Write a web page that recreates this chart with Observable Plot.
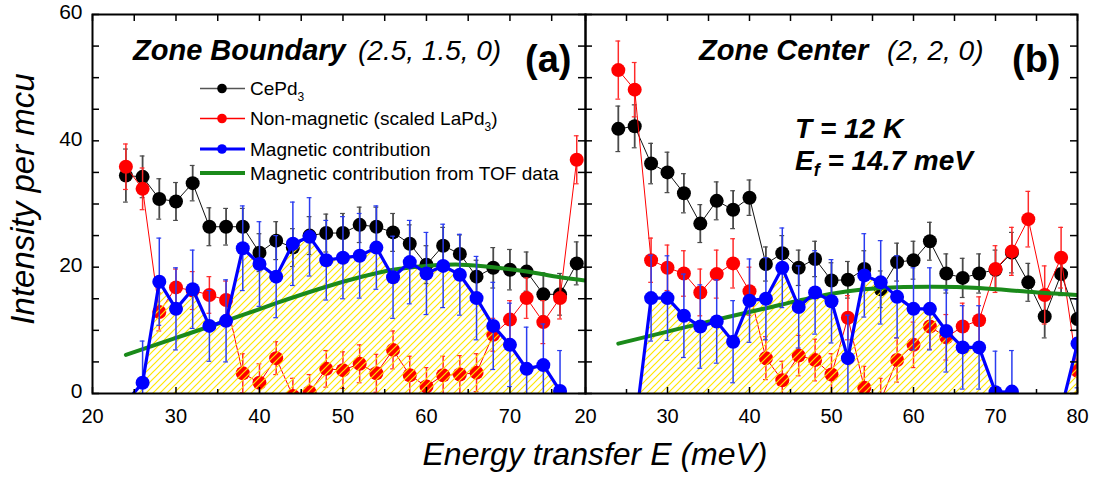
<!DOCTYPE html>
<html>
<head>
<meta charset="utf-8">
<script src="https://cdn.jsdelivr.net/npm/d3@7"></script>
<script src="https://cdn.jsdelivr.net/npm/@observablehq/plot@0.6"></script>
<style>
  body { margin: 0; background: #fff; }
  #chart { position: relative; width: 1096px; height: 478px; }
  #chart > div, #chart > svg { position: absolute; top: 0; }
</style>
</head>
<body>
<div id="chart"></div>
<script>
// ---- Panel (a): zone boundary (2.5, 1.5, 0) ----
const energyA = [24,26,28,30,32,34,36,38,40,42,44,46,48,50,52,54,56,58,60,62,64,66,68,70,72,74,76,78];
const cepdA = [34.5,34.3,30.8,30.4,33.3,26.4,26.4,26.4,22.3,24.2,23.1,25.0,25.4,25.4,26.7,26.4,25.5,23.7,20.4,23.4,22.1,18.5,19.9,19.6,19.3,15.7,15.7,20.6];
const cepdErrA = [4.2,3.3,3.2,3.0,2.8,3.0,2.9,2.9,3.0,3.0,3.0,3.0,3.0,3.1,2.8,3.1,3.0,3.0,3.0,2.9,3.0,2.6,3.2,3.2,3.1,3.4,3.3,3.4];
const nonMagA = [35.9,32.4,12.9,16.8,16.3,15.6,14.8,3.2,1.7,5.6,-0.4,0.2,3.9,3.7,4.7,3.2,6.9,2.9,1.1,2.9,3.0,3.3,9.3,11.7,15.1,11.3,15.1,37.0];
const nonMagErrA = [3.6,3.3,3.0,2.9,3.0,2.9,3.0,3.1,3.0,2.6,2.8,2.8,2.9,2.9,3.0,3.0,3.0,3.0,3.0,3.0,3.0,3.0,2.6,3.0,3.2,3.4,3.3,3.8];
const magA = [-1.4,1.7,17.7,13.4,16.5,10.7,11.5,23.0,20.5,18.5,23.7,24.8,21.1,21.5,21.8,23.1,18.4,20.8,19.0,20.2,18.8,15.1,10.7,7.7,3.9,4.5,0.4,-16.4];
const magErrA = [6.5,6.6,6.9,6.5,6.2,5.6,6.5,6.7,6.7,6.5,6.6,6.2,6.3,6.5,6.7,6.6,6.5,6.6,6.5,6.6,6.4,6.6,6.9,6.6,6.6,6.5,6.4,7.0];
const tofEnergyA = [24,30,36,42,48,52,56,60,64,68,72,76,79];
const tofA = [6.1,8.8,11.5,14.3,16.9,18.4,19.6,20.2,20.4,20.0,19.3,18.4,17.9];

// ---- Panel (b): zone center (2, 2, 0) ----
const energyB = [24,26,28,30,32,34,36,38,40,42,44,46,48,50,52,54,56,58,60,62,64,66,68,70,72,74,76,78,80];
const cepdB = [41.9,42.3,36.4,35.0,31.7,26.9,30.5,29.1,31.0,20.5,22.2,19.9,21.3,17.9,18.0,19.7,16.5,20.8,21.1,24.1,19.0,18.3,19.0,19.6,22.3,17.6,12.2,18.9,11.8];
const cepdErrB = [3.6,3.4,3.2,3.2,3.1,3.0,3.0,3.0,2.8,2.7,2.8,2.8,2.8,2.8,2.9,2.9,2.9,3.0,3.0,3.0,3.1,3.1,3.1,3.1,3.2,3.0,3.4,3.4,3.2];
const nonMagB = [51.2,48.1,21.1,19.9,19.0,16.0,18.9,20.6,16.2,5.6,2.1,6.0,5.3,3.0,12.0,0.9,-1.1,5.3,7.7,10.6,8.9,10.6,11.6,19.7,22.5,27.6,15.6,21.5,3.6];
const nonMagErrB = [4.6,4.3,3.5,3.6,3.6,3.7,3.8,3.9,3.8,3.4,3.0,3.2,3.3,3.3,3.5,3.4,3.5,3.5,3.6,3.6,3.6,3.7,3.7,3.7,3.8,4.4,4.6,4.8,3.5];
const magB = [-9.3,-5.8,15.1,15.1,12.3,10.6,11.4,8.2,14.7,15.0,19.9,13.7,16.0,14.6,5.6,18.7,17.6,15.3,13.4,13.4,9.9,7.3,7.3,0.2,0.3,-10.0,-3.4,-2.6,7.9];
const magErrB = [7.0,7.0,6.8,6.7,6.6,6.6,6.6,6.5,6.6,6.5,6.3,6.5,6.6,6.6,6.8,6.6,6.6,6.5,6.5,6.5,6.5,6.6,6.6,6.5,6.5,7.0,7.0,7.0,7.0];
const tofEnergyB = [24,30,36,42,48,52,56,62,68,74,80];
const tofB = [7.9,9.8,11.7,13.5,15.3,16.2,16.7,16.9,16.7,16.1,15.6];

// ---- Axis ticks ----
const xTickLabels = [20,30,40,50,60,70,80];
const xTicksMinor = [20,25,30,35,40,45,50,55,60,65,70,75,80];
const yTickLabels = [0,20,40,60];
const yTicksMinor = [0,5,10,15,20,25,30,35,40,45,50,55,60];

const FONT = '"Liberation Sans", Arial, Helvetica, sans-serif';
const HEIGHT = 478, MT = 14, MB = 85;
const INNER_H = HEIGHT - MT - MB;

// Diagonal yellow hatch used under the magnetic-contribution curve
function hatchDefs(id) {
  return () => {
    const defs = d3.create("svg:defs");
    const p = defs.append("pattern")
      .attr("id", id)
      .attr("patternUnits", "userSpaceOnUse")
      .attr("width", 7).attr("height", 7);
    p.append("path")
      .attr("d", "M-1,1 L1,-1 M0,7 L7,0 M6,8 L8,6")
      .attr("stroke", "#ffe600")
      .attr("stroke-width", 1.2);
    return defs.node();
  };
}

function drawPanel(cfg) {
  const rows = cfg.energy.map((E, i) => ({
    E,
    k: cfg.cepd[i], ke: cfg.cepdErr[i],
    n: cfg.nonMag[i], ne: cfg.nonMagErr[i],
    m: cfg.mag[i], me: cfg.magErr[i]
  }));
  const tof = cfg.tofEnergy.map((E, i) => ({E, v: cfg.tof[i]}));
  const [x0, x1] = cfg.xDomain;
  const innerW = cfg.width - cfg.marginLeft - cfg.marginRight;
  const cap = 2.4 * (x1 - x0) / innerW;   // half-width of error-bar caps, in meV
  const inX = v => v >= x0 && v <= x1;

  const bars = (key, errKey, stroke, strokeWidth, keep) => {
    const d = keep ? rows.filter(keep) : rows;
    const lo = r => r[key] - r[errKey];
    const hi = r => r[key] + r[errKey];
    return [
      Plot.ruleX(d, {x: "E", y1: lo, y2: hi, stroke, strokeWidth, clip: true}),
      Plot.ruleY(d, {y: hi, x1: r => r.E - cap, x2: r => r.E + cap, stroke, strokeWidth: 1.2, clip: true}),
      Plot.ruleY(d, {y: lo, x1: r => r.E - cap, x2: r => r.E + cap, stroke, strokeWidth: 1.2, clip: true})
    ];
  };

  const xt5 = xTicksMinor.filter(inX);
  const xt10 = xt5.filter(v => v % 10 === 0);
  const xtOdd = xt5.filter(v => v % 10 !== 0);

  const marks = [
    hatchDefs(cfg.hatchId),
    // CePd3
    ...bars("k", "ke", "#4a4a4a", 1.8),
    Plot.line(rows, {x: "E", y: "k", stroke: "#111", strokeWidth: 1, clip: true}),
    Plot.dot(rows, {x: "E", y: "k", r: 7, fill: "#000", clip: true}),
    // non-magnetic (scaled LaPd3)
    ...bars("n", "ne", "#ff2a2a", 1.5),
    Plot.line(rows, {x: "E", y: "n", stroke: "#ff0000", strokeWidth: 1, clip: true}),
    Plot.dot(rows, {x: "E", y: "n", r: 7, fill: "#ff0000", clip: true}),
    // hatched region under the magnetic contribution
    Plot.areaY(rows, {x: "E", y: "m", fill: `url(#${cfg.hatchId})`, clip: true}),
    // magnetic contribution from TOF data
    Plot.line(tof, {x: "E", y: "v", stroke: "#1a8a1a", strokeWidth: 4, curve: "natural", clip: true}),
    // magnetic contribution
    ...bars("m", "me", "#2a3cf0", 1.5, r => r.m >= 0),
    Plot.line(rows, {x: "E", y: "m", stroke: "#0000ff", strokeWidth: 3.2, clip: true}),
    Plot.dot(rows, {x: "E", y: "m", r: 7, fill: "#0000ff", clip: true}),
    // frame and inward ticks
    Plot.frame({stroke: "#000", strokeWidth: 2}),
    Plot.ruleX(xt5, {x: d => d, insetBottom: INNER_H - 7, stroke: "#000", strokeWidth: 1.5}),
    Plot.ruleX(xt10, {x: d => d, insetTop: INNER_H - 6, stroke: "#000", strokeWidth: 1.5}),
    Plot.ruleX(xtOdd, {x: d => d, insetTop: INNER_H - 4, stroke: "#000", strokeWidth: 1.5}),
    Plot.ruleY(yTicksMinor, {y: d => d, insetRight: innerW - 7, stroke: "#000", strokeWidth: 1.5}),
    Plot.ruleY(yTicksMinor, {y: d => d, insetLeft: innerW - 7, stroke: "#000", strokeWidth: 1.5}),
    Plot.axisX(xTickLabels.filter(inX), {tickSize: 0, tickPadding: 15, fontSize: 20, label: null})
  ];
  if (cfg.yAxis) {
    marks.push(Plot.axisY(yTickLabels, {tickSize: 0, tickPadding: 10, fontSize: 21, dy: -2, label: null}));
  }

  const el = Plot.plot({
    width: cfg.width,
    height: HEIGHT,
    marginTop: MT,
    marginBottom: MB,
    marginLeft: cfg.marginLeft,
    marginRight: cfg.marginRight,
    x: {domain: cfg.xDomain, axis: null},
    y: {domain: [0, 60], axis: null},
    style: {fontFamily: FONT, fontSize: "20px", color: "#000", background: "transparent", overflow: "visible"},
    marks
  });
  el.style.left = cfg.left + "px";
  document.getElementById("chart").appendChild(el);
}

drawPanel({
  left: 0, width: 585, marginLeft: 92, marginRight: 0, xDomain: [20, 79.05], yAxis: true, hatchId: "hatchA",
  energy: energyA, cepd: cepdA, cepdErr: cepdErrA, nonMag: nonMagA, nonMagErr: nonMagErrA,
  mag: magA, magErr: magErrA, tofEnergy: tofEnergyA, tof: tofA
});
drawPanel({
  left: 585, width: 511, marginLeft: 0, marginRight: 19, xDomain: [20, 80], yAxis: false, hatchId: "hatchB",
  energy: energyB, cepd: cepdB, cepdErr: cepdErrB, nonMag: nonMagB, nonMagErr: nonMagErrB,
  mag: magB, magErr: magErrB, tofEnergy: tofEnergyB, tof: tofB
});

// ---- Titles, annotations and legend ----
const over = d3.select("#chart").append("svg")
  .attr("width", 1096).attr("height", HEIGHT)
  .style("left", "0px").style("pointer-events", "none")
  .attr("font-family", FONT).attr("fill", "#000");

function label(x, y, str, size, weight, style, anchor) {
  return over.append("text").attr("x", x).attr("y", y)
    .attr("font-size", size).attr("font-weight", weight || "normal")
    .attr("font-style", style || "normal").attr("text-anchor", anchor || "start")
    .text(str);
}

label(133, 60, "Zone Boundary", 29, "bold", "italic");
label(358, 60, "(2.5, 1.5, 0)", 28, "normal", "italic");
label(525, 72, "(a)", 38, "bold");
label(699, 60, "Zone Center", 29, "bold", "italic");
label(887, 60, "(2, 2, 0)", 28, "normal", "italic");
label(1012, 72, "(b)", 38, "bold");
label(795, 138, "T = 12 K", 28, "bold", "italic");
const ef = label(795, 170, "E", 28, "bold", "italic");
ef.append("tspan").attr("font-size", 18).attr("dy", 6).text("f");
ef.append("tspan").attr("dy", -6).text(" = 14.7 meV");

// axis titles
over.append("text")
  .attr("transform", "translate(34,199) rotate(-90)")
  .attr("text-anchor", "middle").attr("font-size", 33).attr("font-style", "italic")
  .text("Intensity per mcu");
label(595, 465, "Energy transfer E (meV)", 32, "normal", "italic", "middle");

// legend
const legendRows = [
  {y: 88.5, base: 95, line: "#555", lw: 1.6, dot: "#000", parts: [["CePd", 0], ["3", 1]]},
  {y: 118.5, base: 125, line: "#ff0000", lw: 1.5, dot: "#ff0000", parts: [["Non-magnetic (scaled LaPd", 0], ["3", 1], [")", 0]]},
  {y: 149, base: 156, line: "#0000ff", lw: 3, dot: "#0000ff", parts: [["Magnetic contribution", 0]]},
  {y: 173, base: 180, line: "#1a8a1a", lw: 4, dot: null, parts: [["Magnetic contribution from TOF data", 0]]}
];
legendRows.forEach(row => {
  over.append("line").attr("x1", 200).attr("x2", 245).attr("y1", row.y).attr("y2", row.y)
    .attr("stroke", row.line).attr("stroke-width", row.lw);
  if (row.dot) over.append("circle").attr("cx", 222).attr("cy", row.y).attr("r", 4.8).attr("fill", row.dot);
  const t = label(250, row.base, "", 19);
  let sub = false;
  row.parts.forEach(([s, isSub]) => {
    const ts = t.append("tspan").text(s);
    if (isSub && !sub) { ts.attr("font-size", 12).attr("dy", 6); sub = true; }
    else if (!isSub && sub) { ts.attr("dy", -6); sub = false; }
  });
});
</script>
</body>
</html>
